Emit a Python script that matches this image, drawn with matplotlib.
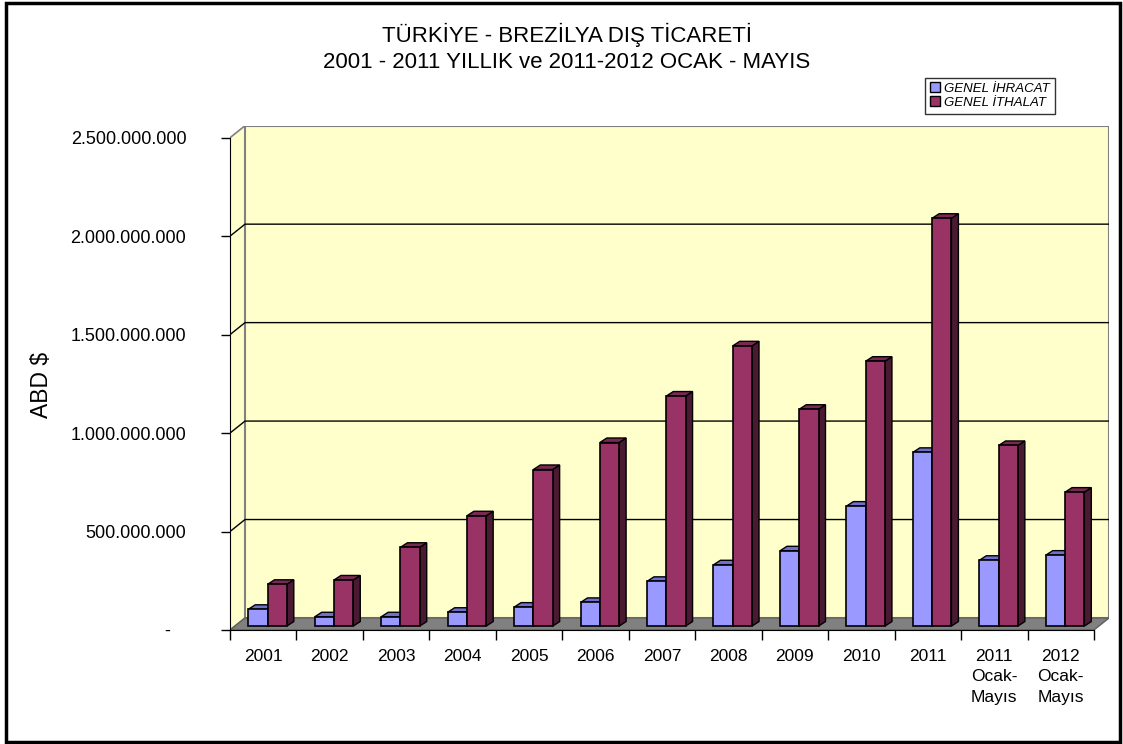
import matplotlib
matplotlib.use("Agg")
from matplotlib import pyplot as plt
from matplotlib.patches import Polygon, Rectangle
from matplotlib.lines import Line2D

#####################################################################
# Türkiye - Brezilya dış ticareti (3D column look, Excel style)
#####################################################################

kategoriler = ["2001", "2002", "2003", "2004", "2005", "2006", "2007",
               "2008", "2009", "2010", "2011", "2011\nOcak-\nMayıs",
               "2012\nOcak-\nMayıs"]
ihracat = [85e6, 47e6, 47e6, 70e6, 96e6, 120e6, 227e6,
           311e6, 382e6, 609e6, 882e6, 334e6, 360e6]
ithalat = [212e6, 234e6, 400e6, 560e6, 795e6, 932e6, 1168e6,
           1423e6, 1101e6, 1345e6, 2071e6, 917e6, 680e6]
seriler = ["GENEL İHRACAT", "GENEL İTHALAT"]
y_ticks = [0, 5e8, 1e9, 1.5e9, 2e9, 2.5e9]
y_labels = ["-   ", "500.000.000", "1.000.000.000", "1.500.000.000",
            "2.000.000.000", "2.500.000.000"]

plt.rcParams["font.family"] = ["Liberation Sans", "DejaVu Sans"]

W, H = 1123, 744
fig = plt.figure(figsize=(W / 100, H / 100), dpi=100)

n = len(kategoriler)
ymax = y_ticks[-1]
# wall depth (3D effect) in data units
DX, DY = 0.226, 6.1e7
# bar depth position / bar thickness
BX, BY = 0.075, 2.0e7
SX, SY = 0.105, 2.3e7

left, right, bottom, top = 230, 1109, 630, 125.7
ax = fig.add_axes([left / W, 1 - bottom / H, (right - left) / W, (bottom - top) / H])
ax.set_xlim(0, n + DX)
ax.set_ylim(0, ymax + DY)
ax.patch.set_visible(False)

wall = "#FFFFCC"
edge_gray = "#808080"
# left wall
ax.add_patch(Polygon([(0, 0), (DX, DY), (DX, ymax + DY), (0, ymax)],
                     closed=True, facecolor=wall, edgecolor=edge_gray, lw=1.2, zorder=0))
# back wall
ax.add_patch(Rectangle((DX, DY), n, ymax, facecolor=wall, edgecolor=edge_gray, lw=1.5, zorder=0))
# floor
ax.add_patch(Polygon([(0, 0), (n, 0), (n + DX, DY), (DX, DY)],
                     closed=True, facecolor="#808080", edgecolor="#606060", lw=1, zorder=1))
# gridlines
for v in y_ticks[1:-1]:
    ax.plot([0, DX, n + DX], [v, v + DY, v + DY], color="black", lw=1, zorder=1)

blue = ("#9999FF", "#6F6FCC", "#4D4D99")
maroon = ("#993366", "#7A2952", "#4A1A33")
bw = 0.29
offs = [0.20, 0.49]
for i in range(n):
    for off, val, cols in ((offs[0], ihracat[i], blue), (offs[1], ithalat[i], maroon)):
        x0 = i + off + BX
        y0 = BY
        y1 = BY + val
        # side face
        ax.add_patch(Polygon([(x0 + bw, y0), (x0 + bw + SX, y0 + SY), (x0 + bw + SX, y1 + SY), (x0 + bw, y1)],
                             closed=True, facecolor=cols[2], edgecolor="black", lw=1, zorder=2))
        # top face
        ax.add_patch(Polygon([(x0, y1), (x0 + SX, y1 + SY), (x0 + bw + SX, y1 + SY), (x0 + bw, y1)],
                             closed=True, facecolor=cols[1], edgecolor="black", lw=1, zorder=2))
        # front face
        ax.add_patch(Rectangle((x0, y0), bw, val, facecolor=cols[0], edgecolor="black", lw=1.2, zorder=2))

for s in ["top", "right"]:
    ax.spines[s].set_visible(False)
ax.spines["left"].set_bounds(0, ymax)
ax.spines["bottom"].set_bounds(0, n)
ax.spines["left"].set_zorder(3)
ax.spines["bottom"].set_zorder(3)

ax.set_yticks(y_ticks)
ax.set_yticklabels(y_labels, fontsize=13)
ax.tick_params(axis="y", length=6.5, width=1, pad=25)

ax.set_xticks(range(n + 1))
ax.set_xticklabels([])
ax.set_xticks([i + 0.5 for i in range(n)], minor=True)
ax.set_xticklabels(kategoriler, minor=True, fontsize=12.5, linespacing=1.45)
ax.tick_params(axis="x", which="major", length=7, width=1)
ax.tick_params(axis="x", which="minor", length=0, pad=13.5)

fig.text(42 / W, 1 - 385 / H, "ABD $", rotation=90, fontsize=16.5, ha="center", va="center")
fig.text(567 / W, 1 - 48 / H, "TÜRKİYE - BREZİLYA DIŞ TİCARETİ\n2001 - 2011 YILLIK ve 2011-2012 OCAK - MAYIS",
         fontsize=16, ha="center", va="center", linespacing=1.3)

handles = [Line2D([], [], marker="s", linestyle="none", markersize=6.5,
                  markerfacecolor=blue[0], markeredgecolor="black", markeredgewidth=1),
           Line2D([], [], marker="s", linestyle="none", markersize=6.5,
                  markerfacecolor=maroon[0], markeredgecolor="black", markeredgewidth=1)]
leg = fig.legend(handles, seriler, loc="upper left", bbox_to_anchor=(925 / W, 1 - 78 / H),
                 prop={"size": 9.5, "style": "italic"}, frameon=True, fancybox=False,
                 handlelength=0.8, handletextpad=0.3, borderpad=0.35, labelspacing=0.15,
                 borderaxespad=0)
leg.get_frame().set_edgecolor("black")
leg.get_frame().set_linewidth(1)

# chart border
fig.add_artist(Rectangle((6 / W, 2 / H), 1114 / W, 739 / H, transform=fig.transFigure,
                         fill=False, edgecolor="black", lw=2.5))

fig.savefig("out.png", dpi=100)
